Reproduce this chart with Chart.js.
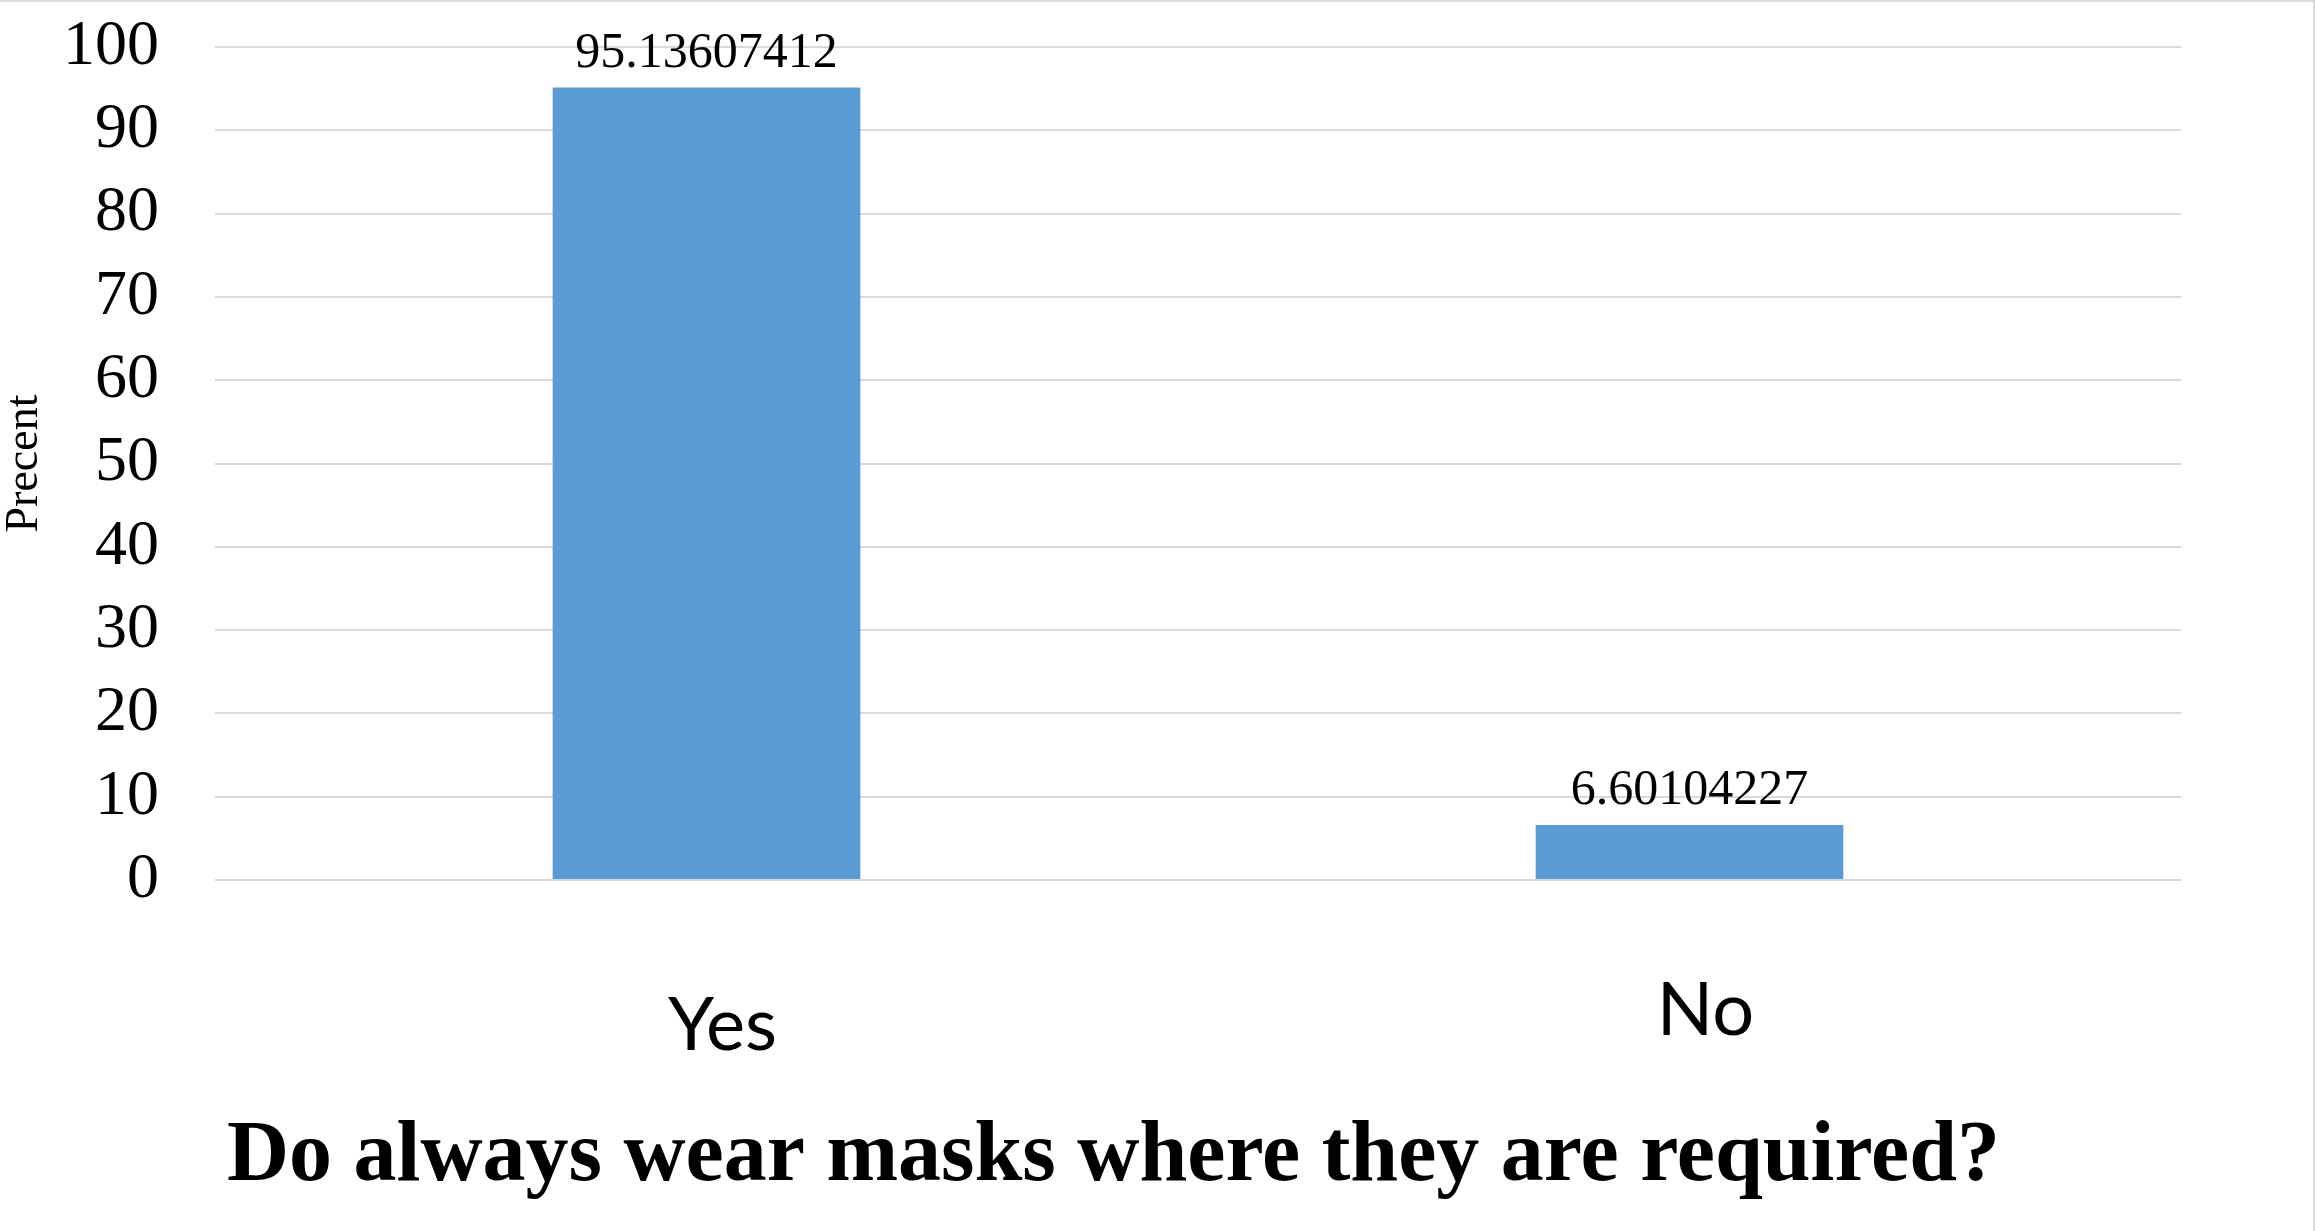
<!DOCTYPE html>
<html>
<head>
<meta charset="utf-8">
<title>Do always wear masks where they are required?</title>
<script src="https://cdn.jsdelivr.net/npm/chart.js"></script>
<style>
  html, body { margin: 0; padding: 0; background: #fff; }
  canvas { display: block; }
</style>
</head>
<body>
<canvas id="maskChart" width="2315" height="1231"></canvas>
<script>
const answers = ['Yes', 'No'];
const percents = [95.13607412, 6.60104227];
const yMin = 0;
const yMax = 100;
const yStep = 10;

const serif = '"Liberation Serif", "Times New Roman", serif';

// value labels above each bar
const barValues = {
  id: 'barValues',
  afterDatasetsDraw(chart) {
    const ctx = chart.ctx;
    const meta = chart.getDatasetMeta(0);
    ctx.save();
    ctx.font = '50px ' + serif;
    ctx.fillStyle = '#000';
    ctx.textAlign = 'center';
    ctx.textBaseline = 'alphabetic';
    meta.data.forEach((bar, i) => {
      ctx.fillText(String(percents[i]), bar.x, bar.y - 21);
    });
    ctx.restore();
  }
};

// thin frame along the top and right edges
const frame = {
  id: 'frame',
  beforeDraw(chart) {
    const { ctx, width, height } = chart;
    ctx.save();
    ctx.fillStyle = '#fff';
    ctx.fillRect(0, 0, width, height);
    ctx.strokeStyle = '#d9d9d9';
    ctx.lineWidth = 2;
    ctx.beginPath();
    ctx.moveTo(0, 1);
    ctx.lineTo(width - 1, 1);
    ctx.lineTo(width - 1, height);
    ctx.stroke();
    ctx.restore();
  }
};

new Chart(document.getElementById('maskChart'), {
  type: 'bar',
  data: {
    labels: answers,
    datasets: [{
      data: percents,
      backgroundColor: '#5b9bd5',
      borderWidth: 0,
      barPercentage: 0.313,
      categoryPercentage: 1
    }]
  },
  options: {
    responsive: false,
    animation: false,
    devicePixelRatio: 1,
    layout: { padding: { top: 47, right: 134, left: 46, bottom: 0 } },
    plugins: {
      legend: { display: false },
      tooltip: { enabled: false },
      title: {
        display: true,
        position: 'bottom',
        text: 'Do always wear masks where they are required?',
        color: '#000',
        font: { family: serif, size: 86, weight: 'bold', lineHeight: 1 },
        padding: { top: 0, bottom: 30 }
      }
    },
    scales: {
      x: {
        grid: { display: false, drawTicks: false },
        border: { display: false },
        ticks: {
          color: '#000',
          // "Yes" sits a bit lower than "No"
          font: (c) => ({
            family: 'Lato, "Open Sans", sans-serif',
            size: 74,
            lineHeight: c.index === 0 ? 1.53 : 1.12
          }),
          padding: 90,
          labelOffset: 16,
          maxRotation: 0
        },
        afterFit(scale) { scale.height = 235; }
      },
      y: {
        min: yMin,
        max: yMax,
        grid: { color: '#d9d9d9', lineWidth: 2, drawTicks: false },
        border: { display: false },
        ticks: {
          stepSize: yStep,
          autoSkip: false,
          color: '#000',
          font: { family: serif, size: 64 },
          padding: 56
        },
        title: {
          display: true,
          text: 'Precent',
          color: '#000',
          font: { family: serif, size: 46, lineHeight: 1.1 },
          padding: { top: -46, bottom: 0 }
        },
        afterFit(scale) {
          scale.width = 169;
          scale.paddingTop = 0;
          scale.paddingBottom = 0;
        }
      }
    }
  },
  plugins: [frame, barValues]
});
</script>
</body>
</html>
